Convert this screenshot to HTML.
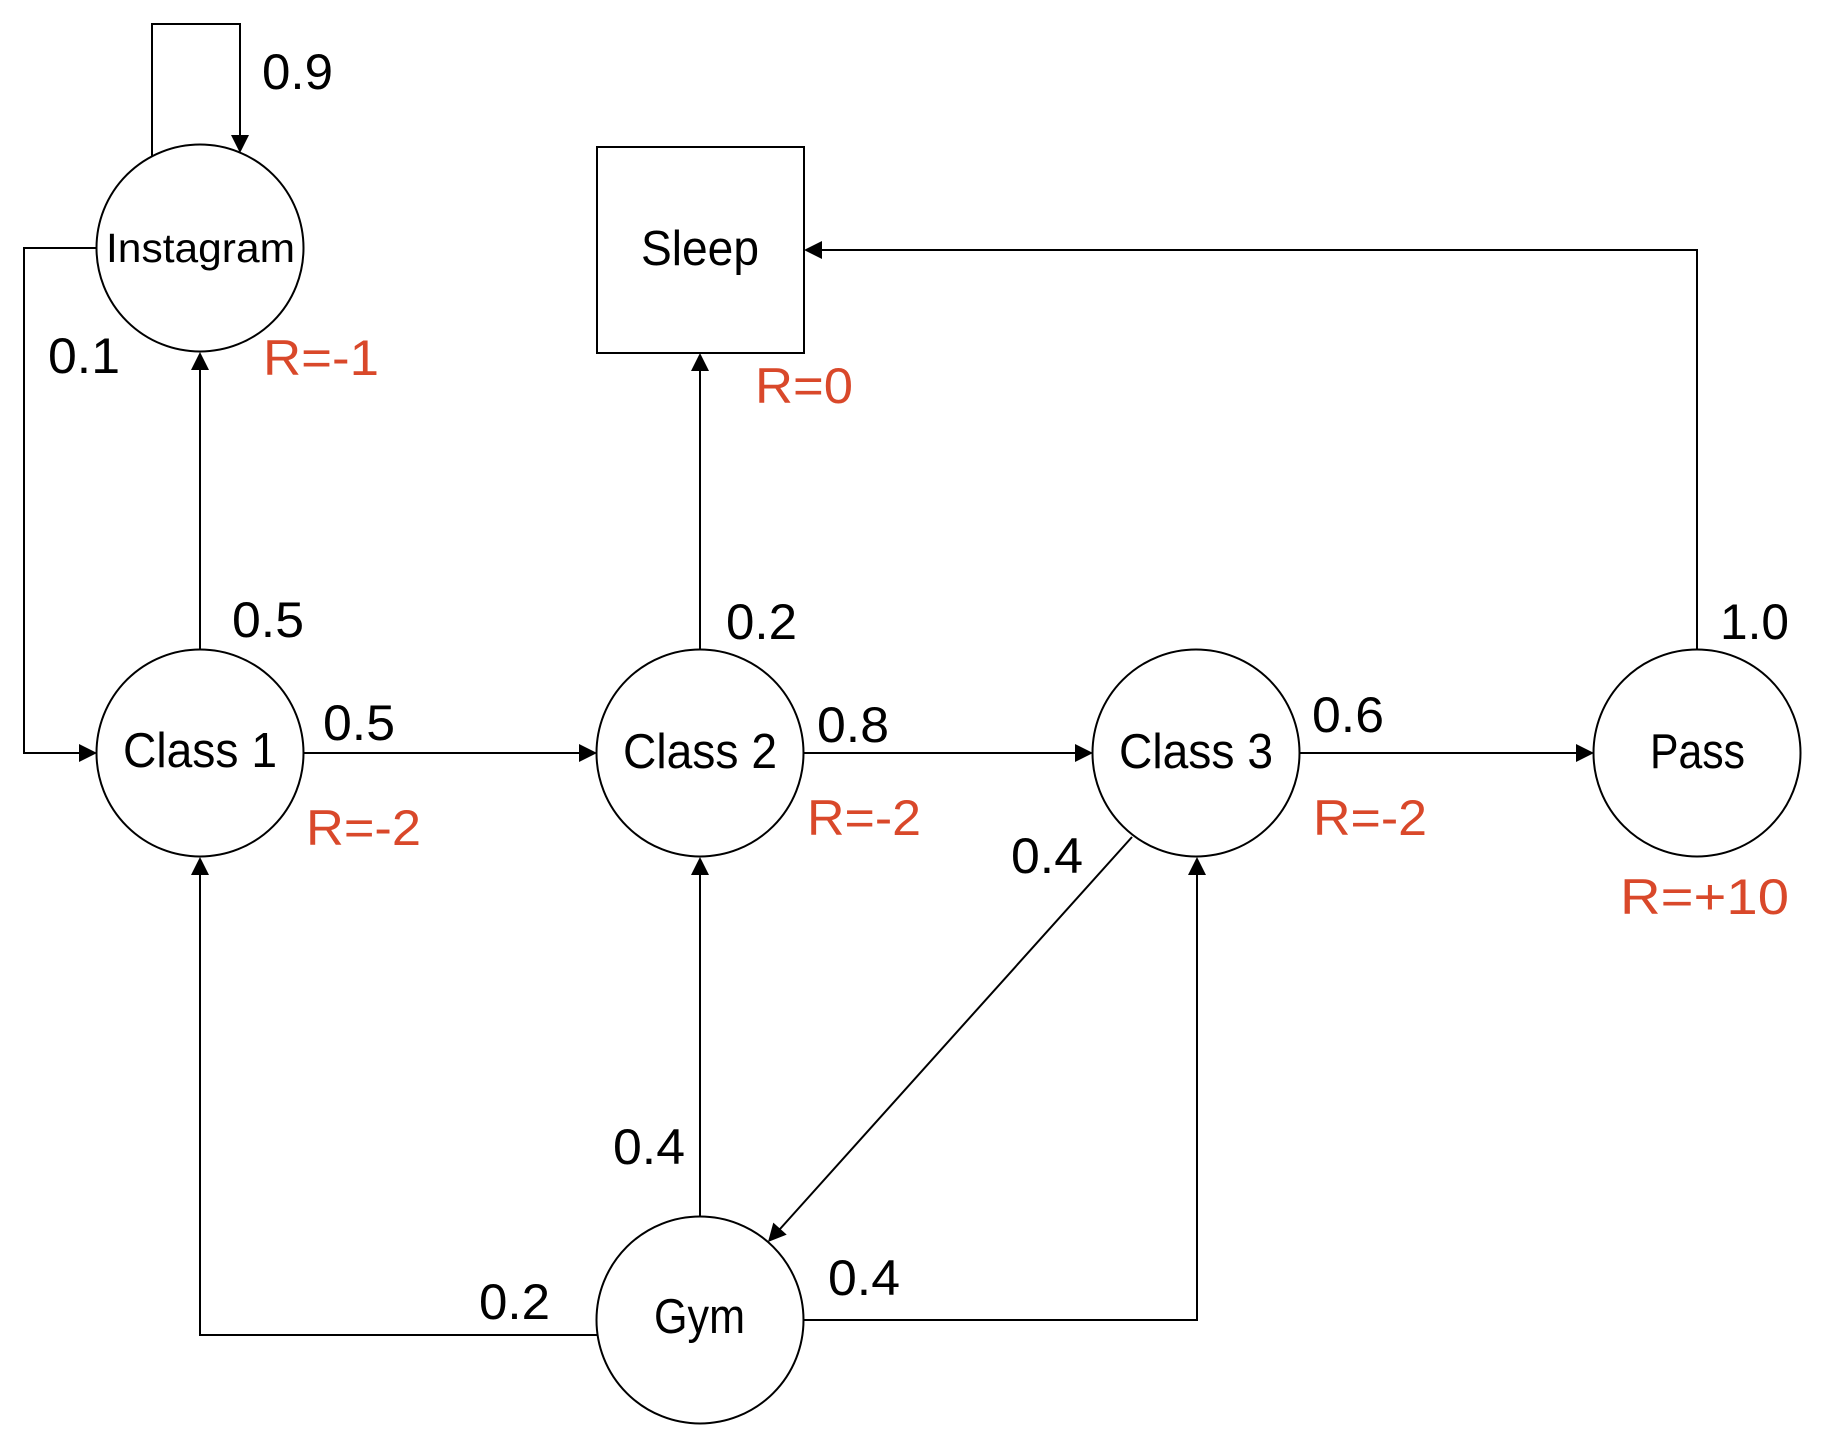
<!DOCTYPE html>
<html>
<head>
<meta charset="utf-8">
<style>
html,body{margin:0;padding:0;background:#fff;}
svg{display:block;}
text{font-family:"Liberation Sans",Arial,sans-serif;}
.n{font-size:49px;fill:#000;}
.l{font-size:50px;fill:#000;}
.r{font-size:50px;fill:#D9482A;}
</style>
</head>
<body>
<svg width="1825" height="1448" viewBox="0 0 1825 1448" xmlns="http://www.w3.org/2000/svg">
<g fill="none" stroke="#000" stroke-width="2">
  <!-- nodes -->
  <circle cx="200" cy="248" r="103.5"/>
  <rect x="597" y="147" width="207" height="206"/>
  <circle cx="200" cy="753" r="103.5"/>
  <circle cx="700" cy="753" r="103.5"/>
  <circle cx="1196" cy="753" r="103.5"/>
  <circle cx="1697" cy="753" r="103.5"/>
  <circle cx="700" cy="1320" r="103.5"/>
  <!-- Instagram self loop -->
  <polyline points="152,157 152,24 240,24 240,136"/>
  <!-- Instagram -> Class1 -->
  <polyline points="97,248 24,248 24,753 80,753"/>
  <!-- Class1 -> Instagram -->
  <line x1="200" y1="649" x2="200" y2="369"/>
  <!-- Class2 -> Sleep -->
  <line x1="700" y1="649" x2="700" y2="370"/>
  <!-- Class1 -> Class2 -->
  <line x1="304" y1="753" x2="580" y2="753"/>
  <!-- Class2 -> Class3 -->
  <line x1="804" y1="753" x2="1075" y2="753"/>
  <!-- Class3 -> Pass -->
  <line x1="1300" y1="753" x2="1576" y2="753"/>
  <!-- Pass -> Sleep -->
  <polyline points="1697,649 1697,250 821,250"/>
  <!-- Gym -> Class2 -->
  <line x1="700" y1="1216" x2="700" y2="874"/>
  <!-- Gym -> Class1 -->
  <polyline points="597,1335 200,1335 200,874"/>
  <!-- Gym -> Class3 -->
  <polyline points="804,1320 1197,1320 1197,874"/>
  <!-- Class3 -> Gym diagonal -->
  <line x1="1132" y1="837" x2="780" y2="1229"/>
</g>
<g fill="#000" stroke="none">
  <polygon points="240,153 231,135 249,135"/>
  <polygon points="97,753 79,744 79,762"/>
  <polygon points="200,352 191,370 209,370"/>
  <polygon points="700,353 691,371 709,371"/>
  <polygon points="597,753 579,744 579,762"/>
  <polygon points="1093,753 1075,744 1075,762"/>
  <polygon points="1594,753 1576,744 1576,762"/>
  <polygon points="804,250 822,241 822,259"/>
  <polygon points="700,857 691,875 709,875"/>
  <polygon points="200,857 191,875 209,875"/>
  <polygon points="1197,857 1188,875 1206,875"/>
  <polygon points="768,1242 786.7,1234.6 773.3,1222.6"/>
</g>
<!-- node labels -->
<text x="106" y="262" font-size="41" fill="#000" textLength="189" lengthAdjust="spacingAndGlyphs">Instagram</text>
<text class="n" x="641" y="265" textLength="118" lengthAdjust="spacingAndGlyphs">Sleep</text>
<text class="n" x="123" y="767" textLength="154" lengthAdjust="spacingAndGlyphs">Class 1</text>
<text class="n" x="623" y="768" textLength="154" lengthAdjust="spacingAndGlyphs">Class 2</text>
<text class="n" x="1119" y="768" textLength="154" lengthAdjust="spacingAndGlyphs">Class 3</text>
<text class="n" x="1650" y="768" textLength="95" lengthAdjust="spacingAndGlyphs">Pass</text>
<text class="n" x="654" y="1333" textLength="91" lengthAdjust="spacingAndGlyphs">Gym</text>
<!-- probabilities -->
<text class="l" x="262" y="89" textLength="71" lengthAdjust="spacingAndGlyphs">0.9</text>
<text class="l" x="48" y="373" textLength="72" lengthAdjust="spacingAndGlyphs">0.1</text>
<text class="l" x="232" y="637" textLength="72" lengthAdjust="spacingAndGlyphs">0.5</text>
<text class="l" x="323" y="740" textLength="72" lengthAdjust="spacingAndGlyphs">0.5</text>
<text class="l" x="726" y="639" textLength="71" lengthAdjust="spacingAndGlyphs">0.2</text>
<text class="l" x="817" y="742" textLength="72" lengthAdjust="spacingAndGlyphs">0.8</text>
<text class="l" x="1312" y="732" textLength="72" lengthAdjust="spacingAndGlyphs">0.6</text>
<text class="l" x="1720" y="639" textLength="69" lengthAdjust="spacingAndGlyphs">1.0</text>
<text class="l" x="1011" y="873" textLength="72" lengthAdjust="spacingAndGlyphs">0.4</text>
<text class="l" x="613" y="1164" textLength="72" lengthAdjust="spacingAndGlyphs">0.4</text>
<text class="l" x="479" y="1319" textLength="71" lengthAdjust="spacingAndGlyphs">0.2</text>
<text class="l" x="828" y="1295" textLength="72" lengthAdjust="spacingAndGlyphs">0.4</text>
<!-- rewards -->
<text class="r" x="263" y="375" textLength="116" lengthAdjust="spacingAndGlyphs">R=-1</text>
<text class="r" x="755" y="403" textLength="98" lengthAdjust="spacingAndGlyphs">R=0</text>
<text class="r" x="306" y="845" textLength="115" lengthAdjust="spacingAndGlyphs">R=-2</text>
<text class="r" x="807" y="835" textLength="114" lengthAdjust="spacingAndGlyphs">R=-2</text>
<text class="r" x="1313" y="835" textLength="114" lengthAdjust="spacingAndGlyphs">R=-2</text>
<text class="r" x="1620" y="914" textLength="169" lengthAdjust="spacingAndGlyphs">R=+10</text>
</svg>
</body>
</html>
